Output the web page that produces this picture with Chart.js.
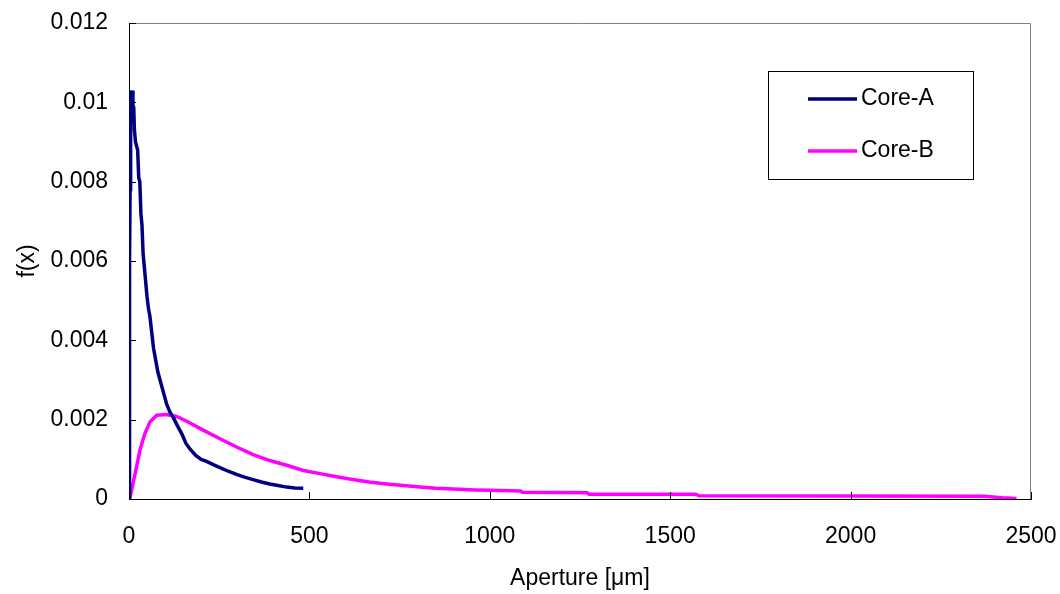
<!DOCTYPE html>
<html>
<head>
<meta charset="utf-8">
<script src="https://cdn.jsdelivr.net/npm/chart.js@4.4.1/dist/chart.umd.min.js"></script>
<style>
  html, body { margin: 0; padding: 0; background: #fff; }
  #poreChart { display: block; }
</style>
</head>
<body>
<canvas id="poreChart" width="1060" height="594"></canvas>
<script>
// aperture distribution, values
const coreA_x = [0, 1, 2, 3, 4, 5, 7, 9, 11, 13, 15, 18, 21, 24, 27, 30, 33, 36, 39, 42, 46, 50, 54, 58, 63, 68, 74, 80, 86, 95, 104, 113, 123, 134, 146, 158, 170, 185, 200, 215, 235, 252, 275, 298, 320, 344, 367, 390, 413, 437, 460, 483];
const coreA_y = [0, 0.0030, 0.0060, 0.0078, 0.0095, 0.0103, 0.0097, 0.0103, 0.0096, 0.0099, 0.0093, 0.0090, 0.0089, 0.0088, 0.0081, 0.0080, 0.0072, 0.0069, 0.0062, 0.0059, 0.0055, 0.0051, 0.0048, 0.0046, 0.0042, 0.0038, 0.0035, 0.0032, 0.0030, 0.0027, 0.0024, 0.0022, 0.00205, 0.00185, 0.00165, 0.0014, 0.00125, 0.0011, 0.00100, 0.00095, 0.00086, 0.00079, 0.00070, 0.00062, 0.00055, 0.00049, 0.00043, 0.00038, 0.00034, 0.00030, 0.00028, 0.00027];

const coreB_x = [0, 3, 17, 30, 44, 58, 77, 104, 132, 160, 207, 252, 298, 344, 390, 437, 483, 529, 575, 620, 665, 714, 760, 806, 850, 900, 960, 1000, 1085, 1090, 1270, 1275, 1570, 1580, 2370, 2420, 2460];
const coreB_y = [0, 0.00005, 0.00064, 0.00122, 0.00165, 0.00194, 0.00211, 0.00213, 0.00208, 0.00196, 0.00173, 0.00152, 0.00131, 0.00112, 0.00097, 0.00085, 0.00072, 0.00064, 0.00056, 0.00049, 0.00043, 0.00038, 0.00034, 0.00030, 0.00027, 0.00025, 0.00023, 0.00022, 0.00020, 0.00017, 0.00016, 0.00012, 0.00012, 0.00008, 0.00007, 0.00003, 0.00001];

const xTickValues = [0, 500, 1000, 1500, 2000, 2500];
const xTickLabels = ['0', '500', '1000', '1500', '2000', '2500'];
const yTickValues = [0, 0.002, 0.004, 0.006, 0.008, 0.01, 0.012];
const yTickLabels = ['0', '0.002', '0.004', '0.006', '0.008', '0.01', '0.012'];

const seriesNames = ['Core-A', 'Core-B'];
const seriesColors = ['#000080', '#ff00ff'];

const FONT = '"Liberation Sans", Arial, sans-serif';
const FSIZE = 23;

function toPoints(xs, ys) {
    return xs.map((x, i) => ({ x: x, y: ys[i] }));
}

// inside tick marks, grey frame on top/right, boxed legend
const frameAndLegend = {
    id: 'frameAndLegend',
    afterDatasetsDraw(chart) {
        const ctx = chart.ctx;
        const area = chart.chartArea;
        const xs = chart.scales.x, ys = chart.scales.y;
        ctx.save();
        ctx.strokeStyle = '#808080';
        ctx.lineWidth = 1;
        ctx.beginPath();
        ctx.moveTo(area.left, area.top + 0.5);
        ctx.lineTo(area.right - 0.5, area.top + 0.5);
        ctx.lineTo(area.right - 0.5, area.bottom);
        ctx.stroke();

        ctx.strokeStyle = '#000';
        ctx.beginPath();
        xTickValues.forEach(v => {
            const px = Math.round(xs.getPixelForValue(v)) + 0.5;
            ctx.moveTo(px, area.bottom);
            ctx.lineTo(px, area.bottom - 7);
        });
        yTickValues.forEach(v => {
            const py = Math.round(ys.getPixelForValue(v)) + 0.5;
            ctx.moveTo(area.left, py);
            ctx.lineTo(area.left + 7, py);
        });
        ctx.stroke();

        // legend box
        const bx = 768.5, by = 71.5, bw = 205, bh = 108;
        ctx.fillStyle = '#fff';
        ctx.fillRect(bx, by, bw, bh);
        ctx.strokeStyle = '#000';
        ctx.strokeRect(bx, by, bw, bh);
        ctx.font = FSIZE + 'px ' + FONT;
        ctx.textBaseline = 'middle';
        ctx.textAlign = 'left';
        chart.data.datasets.forEach((ds, i) => {
            const ly = 99 + i * 52;
            ctx.strokeStyle = ds.borderColor;
            ctx.lineWidth = 3.5;
            ctx.beginPath();
            ctx.moveTo(808, ly);
            ctx.lineTo(857, ly);
            ctx.stroke();
            ctx.fillStyle = '#000';
            ctx.fillText(ds.label, 861, ly);
        });
        ctx.restore();
    }
};

new Chart(document.getElementById('poreChart'), {
    type: 'line',
    data: {
        datasets: [{
            label: seriesNames[0],
            data: toPoints(coreA_x, coreA_y),
            borderColor: seriesColors[0],
            borderWidth: 3.5,
            pointRadius: 0,
            tension: 0,
            fill: false
        }, {
            label: seriesNames[1],
            data: toPoints(coreB_x, coreB_y),
            borderColor: seriesColors[1],
            borderWidth: 3.5,
            pointRadius: 0,
            tension: 0,
            fill: false
        }]
    },
    options: {
        responsive: false,
        animation: false,
        devicePixelRatio: 1,
        layout: { padding: { top: 23, right: 29, bottom: 0, left: 0 } },
        plugins: {
            legend: { display: false },
            tooltip: { enabled: false }
        },
        scales: {
            x: {
                type: 'linear',
                min: 0,
                max: 2500,
                afterBuildTicks: s => { s.ticks = xTickValues.map(v => ({ value: v })); },
                afterFit: s => { s.height = 95; s.paddingLeft = 0; s.paddingRight = 0; },
                grid: { display: false, drawTicks: false },
                border: { display: true, color: '#000', width: 1 },
                ticks: {
                    padding: 24,
                    maxRotation: 0,
                    color: '#000',
                    font: { family: FONT, size: FSIZE },
                    callback: (v, i) => xTickLabels[i]
                },
                title: {
                    display: true,
                    text: 'Aperture [μm]',
                    color: '#000',
                    font: { family: FONT, size: FSIZE },
                    padding: { top: 0, bottom: 2 }
                }
            },
            y: {
                type: 'linear',
                min: 0,
                max: 0.012,
                afterBuildTicks: s => { s.ticks = yTickValues.map(v => ({ value: v })); },
                afterFit: s => { s.width = 129; s.paddingTop = 0; s.paddingBottom = 0; },
                grid: { display: false, drawTicks: false },
                border: { display: true, color: '#000', width: 1 },
                ticks: {
                    padding: 21,
                    color: '#000',
                    font: { family: FONT, size: FSIZE },
                    callback: (v, i) => yTickLabels[i]
                },
                title: {
                    display: true,
                    text: 'f(x)',
                    color: '#000',
                    font: { family: FONT, size: FSIZE },
                    padding: { top: 14, bottom: 0 }
                }
            }
        }
    },
    plugins: [frameAndLegend]
});
</script>
</body>
</html>
